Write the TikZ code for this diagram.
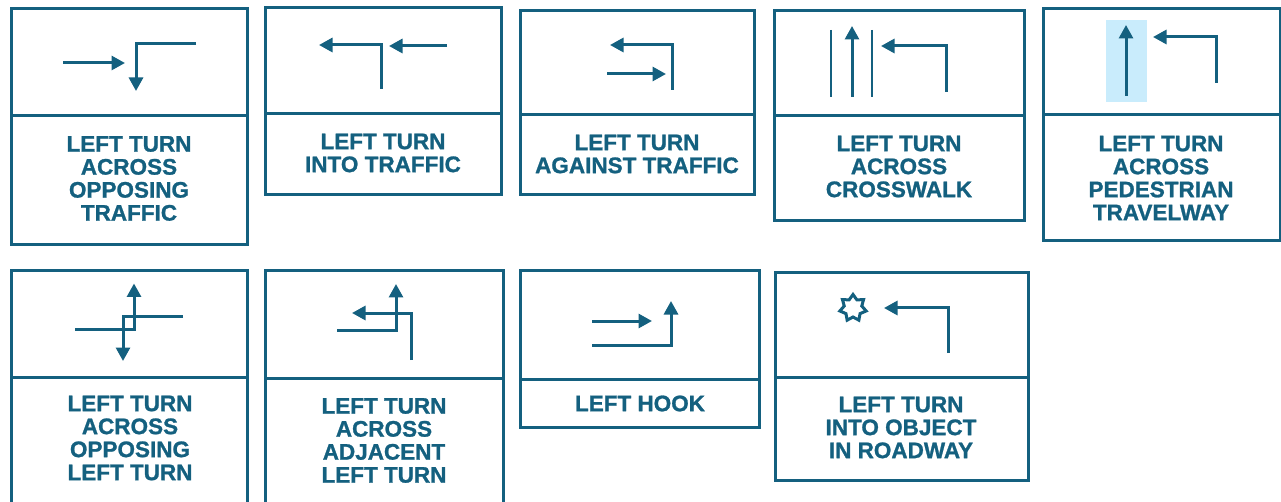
\documentclass[tikz,border=0pt]{standalone}
\usepackage{fontspec}
\setmainfont{Liberation Sans}[BoldFeatures={FakeBold=1.1}]
\usetikzlibrary{arrows.meta}
\definecolor{teal}{HTML}{14607F}
\definecolor{hl}{HTML}{C9ECFC}
\newcommand{\panel}[6]{% name, left, right, top, mid, bottom
  \draw[panelline] (#2,#4) rectangle (#3,#6);
  \draw[panelline] (#2,#5) -- (#3,#5);
}
\newcommand{\lbl}[4]{\node[labeltext] (#1) at (#2,#3) {#4};}
\begin{document}
\begin{tikzpicture}[x=1pt,y=-1pt,
  panelline/.style={draw=teal,line width=3pt},
  arrowline/.style={draw=teal,line width=3pt,-{Triangle[length=13.5pt,width=14pt]}},
  turnline/.style={draw=teal,line width=3pt,line join=miter,-{Triangle[length=13.5pt,width=14pt]}},
  thinline/.style={draw=teal,line width=2pt},
  labeltext/.style={text=teal,align=center,inner sep=0pt,font=\fontsize{22.5}{23}\selectfont\bfseries}]
\useasboundingbox (0,0) rectangle (1281,502);
\fill[hl] (1106,20) rectangle (1147,102);
\panel{p1}{11}{247}{9}{116}{245}
\panel{p2}{265}{501}{8}{114}{195}
\panel{p3}{520}{754}{11}{115}{195}
\panel{p4}{774}{1024}{11}{116}{221}
\panel{p5}{1043}{1280}{9}{115}{241}
\panel{p6}{11}{247}{271}{377}{503}
\panel{p7}{265}{503}{271}{378}{503}
\panel{p8}{520}{759}{271}{379}{427}
\panel{p9}{775}{1028}{273}{377}{480}
\lbl{t1}{129}{178.5}{LEFT TURN\\ACROSS\\OPPOSING\\TRAFFIC}
\lbl{t2}{383}{153}{LEFT TURN\\INTO TRAFFIC}
\lbl{t3}{637}{154}{LEFT TURN\\AGAINST TRAFFIC}
\lbl{t4}{899}{166.5}{LEFT TURN\\ACROSS\\CROSSWALK}
\lbl{t5}{1161}{178}{LEFT TURN\\ACROSS\\PEDESTRIAN\\TRAVELWAY}
\lbl{t6}{130}{438}{LEFT TURN\\ACROSS\\OPPOSING\\LEFT TURN}
\lbl{t7}{384}{440.5}{LEFT TURN\\ACROSS\\ADJACENT\\LEFT TURN}
\lbl{t8}{640}{403.5}{LEFT HOOK}
\lbl{t9}{901}{427.5}{LEFT TURN\\INTO OBJECT\\IN ROADWAY}
% panel 1
\coordinate (a1) at (63,63); \coordinate (b1) at (125,63);
\coordinate (a2) at (196,44); \coordinate (b2) at (136,91);
\draw[arrowline] (a1) -- (b1);
\draw[turnline] (a2) -| (b2);
% panel 2
\coordinate (c1) at (381,89); \coordinate (d1) at (319,45);
\coordinate (c2) at (447,46); \coordinate (d2) at (389,46);
\draw[turnline] (c1) |- (d1);
\draw[arrowline] (c2) -- (d2);
% panel 3
\coordinate (e1) at (672,90); \coordinate (f1) at (610,45);
\coordinate (e2) at (607,74); \coordinate (f2) at (666,74);
\draw[turnline] (e1) |- (f1);
\draw[arrowline] (e2) -- (f2);
% panel 4
\coordinate (g1) at (831,30); \coordinate (h1) at (831,97);
\coordinate (g2) at (872,30); \coordinate (h2) at (872,97);
\coordinate (g3) at (852,97); \coordinate (h3) at (852,26);
\coordinate (g4) at (946,92); \coordinate (h4) at (881,46);
\draw[thinline] (g1) -- (h1);
\draw[thinline] (g2) -- (h2);
\draw[arrowline] (g3) -- (h3);
\draw[turnline] (g4) |- (h4);
% panel 5
\coordinate (i1) at (1126,96); \coordinate (j1) at (1126,25);
\coordinate (i2) at (1216,83); \coordinate (j2) at (1153,37);
\draw[arrowline] (i1) -- (j1);
\draw[turnline] (i2) |- (j2);
% panel 6
\coordinate (k1) at (75,329); \coordinate (l1) at (134,283.5);
\coordinate (k2) at (183,316); \coordinate (l2) at (123,361);
\draw[turnline] (k1) -| (l1);
\draw[turnline] (k2) -| (l2);
% panel 7
\coordinate (m1) at (337,330); \coordinate (n1) at (396,284);
\coordinate (m2) at (411,360); \coordinate (n2) at (352,313);
\draw[turnline] (m1) -| (n1);
\draw[turnline] (m2) |- (n2);
% panel 8
\coordinate (o1) at (592,321); \coordinate (q1) at (652,321);
\coordinate (o2) at (592,345); \coordinate (q2) at (671,301);
\draw[arrowline] (o1) -- (q1);
\draw[turnline] (o2) -| (q2);
% panel 9
\coordinate (r1) at (948,353); \coordinate (s1) at (884,308);
\draw[turnline] (r1) |- (s1);
\begin{scope}[shift={(853,308)}]
\draw[panelline,line width=3pt,line join=miter]
  (-90:13.5) -- (-64.29:9) -- (-38.57:13.5) -- (-12.86:9) -- (12.86:13.5)
  -- (38.57:9) -- (64.29:13.5) -- (90:9) -- (115.71:13.5) -- (141.43:9)
  -- (167.14:13.5) -- (192.86:9) -- (218.57:13.5) -- (244.29:9) -- cycle;
\end{scope}
\end{tikzpicture}
\end{document}
